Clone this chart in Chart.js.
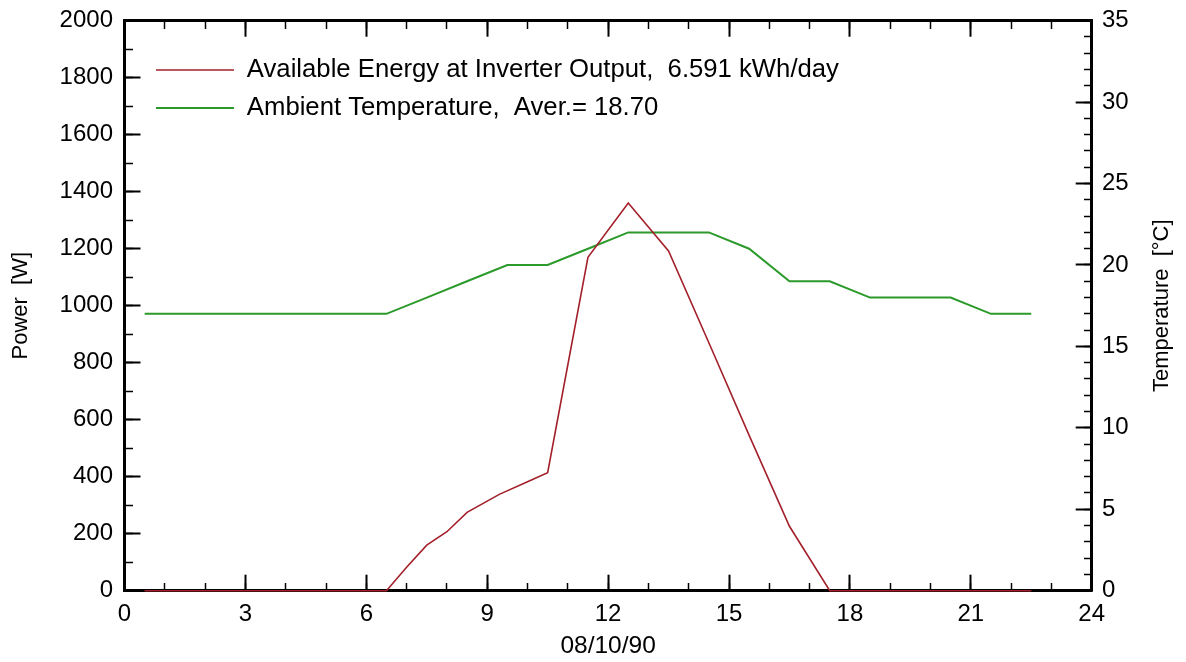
<!DOCTYPE html>
<html>
<head>
<meta charset="utf-8">
<script src="https://cdn.jsdelivr.net/npm/chart.js@4/dist/chart.umd.min.js"></script>
<style>
  html, body { margin: 0; padding: 0; background: #ffffff; }
  #wrap { width: 1186px; height: 662px; }
</style>
</head>
<body>
<div id="wrap"><canvas id="c" width="1186" height="662"></canvas></div>
<script>
// ---- data ----
const energyHours = [0.5, 6.5, 7.0, 7.5, 8.0, 8.5, 9.3, 10.0, 10.5, 11.5, 12.5, 13.5, 14.5, 15.5, 16.5, 17.5, 22.5];
const energyWatts = [0, 0, 82, 160, 207, 275, 338, 382, 414, 1170, 1360, 1192, 870, 545, 226, 0, 0];

const tempHours = [0.5, 1.5, 2.5, 3.5, 4.5, 5.5, 6.5, 7.5, 8.5, 9.5, 10.5, 11.5, 12.5, 13.5, 14.5, 15.5, 16.5, 17.5, 18.5, 19.5, 20.5, 21.5, 22.5];
const tempValues = [17, 17, 17, 17, 17, 17, 17, 18, 19, 20, 20, 21, 22, 22, 22, 21, 19, 19, 18, 18, 18, 17, 17];

const energyLabel = 'Available Energy at Inverter Output,  6.591 kWh/day';
const tempLabel = 'Ambient Temperature,  Aver.= 18.70';
const xTitle = '08/10/90';
const yTitle = 'Power  [W]';
const y2Title = 'Temperature  [°C]';

const xMin = 0, xMax = 24, xMajor = 3, xMinor = 1;
const yMin = 0, yMax = 2000, yMajor = 200, yMinor = 100;
const y2Min = 0, y2Max = 35, y2Major = 5, y2Minor = 1;

// ---- styling ----
const FONT = 'Liberation Sans, Arial, sans-serif';
const INK = '#000000';
const RED = '#a3202a';
const GREEN = '#2b9a2b';
const MAJOR_LEN = 16, MINOR_LEN = 8;
const LEGEND_FONT = 25.7, LEGEND_PAD = 12.3;

const energyPoints = energyHours.map((h, i) => ({ x: h, y: energyWatts[i] }));
const tempPoints = tempHours.map((h, i) => ({ x: h, y: tempValues[i] }));

function noPad(s) { s.paddingTop = 0; s.paddingBottom = 0; s.paddingLeft = 0; s.paddingRight = 0; }

function minorAxis(axis, pos, min, max, step, len) {
  return {
    type: 'linear', axis: axis, position: pos, min: min, max: max,
    ticks: { display: false, stepSize: step },
    grid: { drawOnChartArea: false, drawTicks: true, tickLength: len, tickWidth: 1.5, tickColor: INK },
    border: { display: false },
    title: { display: false },
    afterFit: s => { if (axis === 'x') s.height = 0; else s.width = 0; noPad(s); }
  };
}

const legendPlace = {
  id: 'legendPlace',
  afterLayout(chart) {
    const a = chart.chartArea;
    chart.legend.left = a.left + 19.2;
    chart.legend.top = a.top + 24.2;
  }
};

const rightTitle = {
  id: 'rightTitle',
  afterDraw(chart) {
    const a = chart.chartArea;
    const ctx = chart.ctx;
    ctx.save();
    ctx.translate(chart.width - 24, (a.top + a.bottom) / 2);
    ctx.rotate(-Math.PI / 2);
    ctx.font = '22px ' + FONT;
    ctx.fillStyle = INK;
    ctx.textAlign = 'center';
    ctx.textBaseline = 'middle';
    ctx.fillText(y2Title, 0, 0);
    ctx.restore();
  }
};

new Chart(document.getElementById('c'), {
  type: 'line',
  data: {
    datasets: [
      {
        label: energyLabel, data: energyPoints, xAxisID: 'x', yAxisID: 'y',
        borderColor: RED, backgroundColor: RED, borderWidth: 1.6,
        pointRadius: 0, tension: 0, fill: false, clip: false
      },
      {
        label: tempLabel, data: tempPoints, xAxisID: 'x', yAxisID: 'y2',
        borderColor: GREEN, backgroundColor: GREEN, borderWidth: 2,
        pointRadius: 0, tension: 0, fill: false, clip: false
      }
    ]
  },
  options: {
    responsive: false,
    animation: false,
    devicePixelRatio: 1,
    layout: { padding: 0 },
    font: { family: FONT },
    plugins: {
      tooltip: { enabled: false },
      legend: {
        position: 'chartArea', align: 'start',
        labels: {
          usePointStyle: true, pointStyle: 'line', pointStyleWidth: 78,
          padding: LEGEND_PAD, color: INK,
          font: { family: FONT, size: LEGEND_FONT }
        }
      }
    },
    scales: {
      x: {
        type: 'linear', position: 'bottom', min: xMin, max: xMax,
        ticks: { stepSize: xMajor, color: INK, padding: 25, maxRotation: 0, autoSkip: false,
                 font: { family: FONT, size: 24 } },
        grid: { drawOnChartArea: false, tickLength: -MAJOR_LEN, tickWidth: 2, tickColor: INK },
        border: { display: true, width: 3, color: INK },
        title: { display: true, text: xTitle, color: INK, font: { family: FONT, size: 24.5 },
                 padding: { top: 0, bottom: 1.3 } },
        afterFit: s => { s.height = 71.3; noPad(s); }
      },
      xTop: {
        type: 'linear', axis: 'x', position: 'top', min: xMin, max: xMax,
        ticks: { display: false, stepSize: xMajor },
        grid: { drawOnChartArea: false, tickLength: -MAJOR_LEN, tickWidth: 2, tickColor: INK },
        border: { display: true, width: 3, color: INK },
        afterFit: s => { s.height = 20.7; noPad(s); }
      },
      xMinorBottom: minorAxis('x', { y: yMin }, xMin, xMax, xMinor, -MINOR_LEN),
      xMinorTop: minorAxis('x', { y: yMax }, xMin, xMax, xMinor, MINOR_LEN),
      y: {
        type: 'linear', position: 'left', min: yMin, max: yMax,
        ticks: { stepSize: yMajor, color: INK, padding: 27.5, format: { useGrouping: false },
                 font: { family: FONT, size: 24 } },
        grid: { drawOnChartArea: false, tickLength: -MAJOR_LEN, tickWidth: 2, tickColor: INK },
        border: { display: true, width: 3, color: INK },
        title: { display: true, text: yTitle, color: INK, font: { family: FONT, size: 22 },
                 padding: { top: 7.3, bottom: 0 } },
        afterFit: s => { s.width = 124.5; noPad(s); }
      },
      yMinorLeft: minorAxis('y', { x: xMin }, yMin, yMax, yMinor, -MINOR_LEN),
      y2: {
        type: 'linear', position: 'right', min: y2Min, max: y2Max,
        ticks: { stepSize: y2Major, color: INK, padding: 26.3, font: { family: FONT, size: 24 } },
        grid: { drawOnChartArea: false, tickLength: -MAJOR_LEN, tickWidth: 2, tickColor: INK },
        border: { display: true, width: 3, color: INK },
        afterFit: s => { s.width = 94.3; noPad(s); }
      },
      y2MinorRight: minorAxis('y', { x: xMax }, y2Min, y2Max, y2Minor, MINOR_LEN)
    }
  },
  plugins: [legendPlace, rightTitle]
});
</script>
</body>
</html>
